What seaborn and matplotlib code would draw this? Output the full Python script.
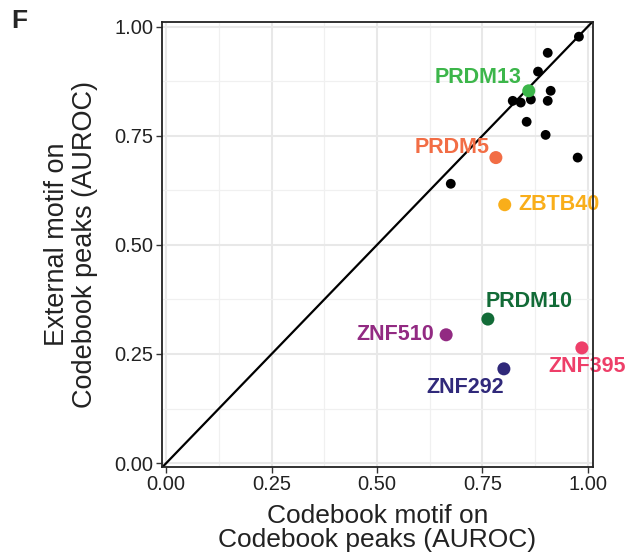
import matplotlib
matplotlib.use("Agg")
import matplotlib.pyplot as plt
import seaborn as sns
import pandas as pd
from matplotlib.ticker import MultipleLocator

# Unlabelled TFs: AUROC of codebook motif (x) vs external motif (y) on codebook peaks
other_x = [0.822, 0.841, 0.865, 0.905, 0.912, 0.882, 0.905, 0.979, 0.855, 0.900, 0.976, 0.675]
other_y = [0.830, 0.826, 0.833, 0.830, 0.853, 0.897, 0.940, 0.977, 0.782, 0.752, 0.700, 0.640]

# Highlighted TFs
tf_names = ["PRDM13", "PRDM5", "ZBTB40", "PRDM10", "ZNF510", "ZNF395", "ZNF292"]
tf_x = [0.860, 0.782, 0.803, 0.763, 0.664, 0.986, 0.801]
tf_y = [0.853, 0.700, 0.592, 0.330, 0.294, 0.264, 0.216]
tf_colors = ["#3cb64a", "#f26d45", "#f9ae1a", "#126b37", "#922a82", "#ee3f69", "#30297a"]

ticks = [0.00, 0.25, 0.50, 0.75, 1.00]
tick_labels = ["0.00", "0.25", "0.50", "0.75", "1.00"]

# label placement: (dx, dy) in points from the dot, horizontal alignment
label_style = {
    "PRDM13": (-5.0, 9.4, "right"),
    "PRDM5": (-4.3, 7.2, "right"),
    "ZBTB40": (10.0, 0.0, "left"),
    "PRDM10": (29.5, 13.0, "center"),
    "ZNF510": (-8.6, 0.0, "right"),
    "ZNF395": (3.6, -13.7, "center"),
    "ZNF292": (-28.0, -13.7, "center"),
}

sns.set_theme(style="white")
plt.rcParams["font.family"] = ["Liberation Sans", "DejaVu Sans"]

others = pd.DataFrame({"codebook": other_x, "external": other_y})
tfs = pd.DataFrame({"codebook": tf_x, "external": tf_y, "tf": tf_names})

fig = plt.figure(figsize=(6.28, 5.60), dpi=100)
ax = fig.add_axes([0.258, 0.166, 0.686, 0.795])

ax.set_xlim(-0.01, 1.012)
ax.set_ylim(-0.009, 1.011)

# grid: major and minor lines
ax.xaxis.set_major_locator(MultipleLocator(0.25))
ax.yaxis.set_major_locator(MultipleLocator(0.25))
ax.xaxis.set_minor_locator(MultipleLocator(0.125))
ax.yaxis.set_minor_locator(MultipleLocator(0.125))
ax.grid(which="major", color="#e8e8e8", linewidth=1.5, zorder=0)
ax.grid(which="minor", color="#f0f0f0", linewidth=0.9, zorder=0)
ax.set_axisbelow(True)

ax.axline((0, 0), (1, 1), color="black", linewidth=1.6, zorder=1)

sns.scatterplot(data=others, x="codebook", y="external", color="black", s=50,
                edgecolor="none", ax=ax, zorder=3, legend=False)
sns.scatterplot(data=tfs, x="codebook", y="external", hue="tf", palette=tf_colors,
                hue_order=tf_names, s=88, edgecolor="none", ax=ax, zorder=3, legend=False)

for name, x, y, c in zip(tf_names, tf_x, tf_y, tf_colors):
    dx, dy, ha = label_style[name]
    ax.annotate(name, (x, y), xytext=(dx, dy), textcoords="offset points",
                ha=ha, va="center", color=c, fontsize=15.5, fontweight="bold",
                annotation_clip=False, zorder=2)

ax.set_xticks(ticks)
ax.set_xticklabels(tick_labels)
ax.set_yticks(ticks)
ax.set_yticklabels(tick_labels)
ax.tick_params(axis="both", which="major", direction="out", length=4, width=1.0,
               color="#333333", labelsize=14.5, labelcolor="#222222", pad=2,
               bottom=True, left=True)
ax.tick_params(which="minor", length=0)

for s in ax.spines.values():
    s.set_color("#222222")
    s.set_linewidth(1.3)
    s.set_zorder(4)

ax.set_xlabel("Codebook motif on\nCodebook peaks (AUROC)", fontsize=19,
              color="#222222", linespacing=1.02, labelpad=7)
ax.set_ylabel("External motif on\nCodebook peaks (AUROC)", fontsize=19.5,
              color="#222222", linespacing=1.08, labelpad=12)

fig.text(0.018, 0.962, "F", fontsize=19, fontweight="bold", ha="left", va="center")

fig.savefig("out.png", dpi=100)
